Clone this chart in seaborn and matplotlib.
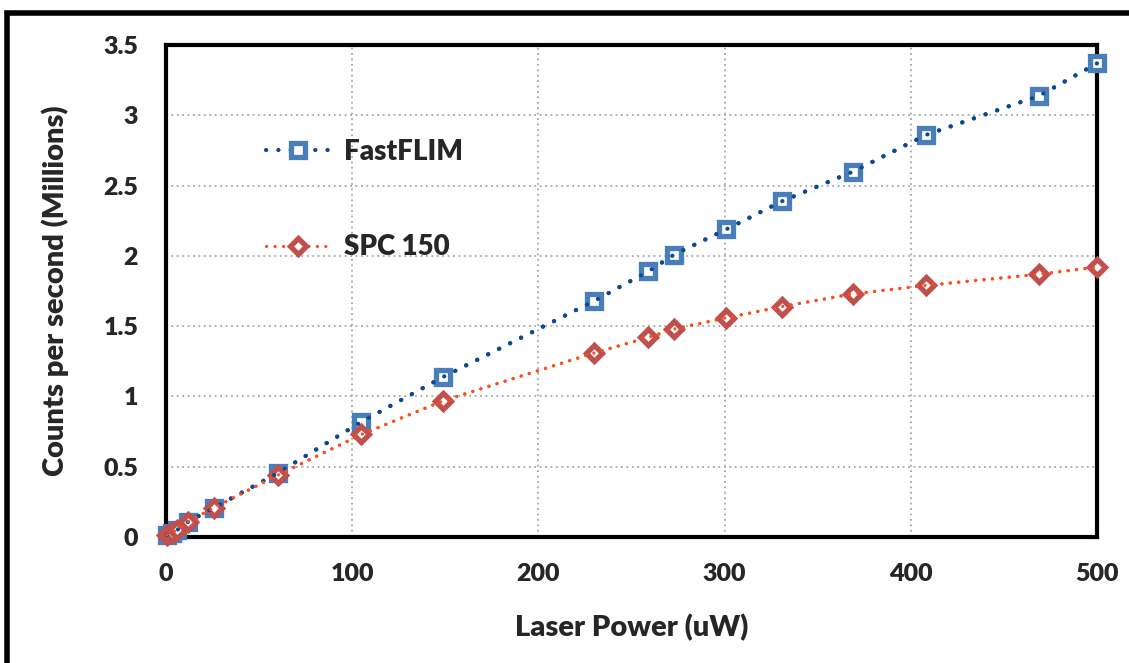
import matplotlib
matplotlib.use("Agg")
import matplotlib.pyplot as plt
from matplotlib.patches import Rectangle
import seaborn as sns

# values
power_uw = [0.5, 3, 6, 12, 26, 60, 105, 149, 230, 259, 273, 301, 331, 369, 408, 469, 500]
fastflim = [0.015, 0.03, 0.05, 0.11, 0.21, 0.455, 0.82, 1.14, 1.68, 1.89, 2.01, 2.19, 2.39, 2.60, 2.86, 3.14, 3.37]
spc150 = [0.015, 0.03, 0.05, 0.11, 0.21, 0.44, 0.73, 0.97, 1.31, 1.42, 1.48, 1.56, 1.64, 1.73, 1.79, 1.87, 1.92]
x_ticks = [0, 100, 200, 300, 400, 500]
y_ticks = [0, 0.5, 1, 1.5, 2, 2.5, 3, 3.5]
y_tick_labels = ["0", "0.5", "1", "1.5", "2", "2.5", "3", "3.5"]

sns.set_style("white")
plt.rcParams["font.family"] = ["Lato", "DejaVu Sans"]
plt.rcParams["font.weight"] = "heavy"

fig = plt.figure(figsize=(11.29, 6.63), dpi=100)
ax = fig.add_axes([0.147, 0.19, 0.8247, 0.742])

blue_line = "#0B4A8F"
blue_mark = "#4A7EBB"
red_line = "#FF4C1A"
red_mark = "#C0504D"
blue_dot = (0, (0.05, 2.9))
red_dot = (0, (0.05, 2.6))

# series with markers (these carry the legend entries)
sns.lineplot(x=power_uw, y=fastflim, ax=ax, label="FastFLIM", color=blue_line,
             linestyle=blue_dot, dash_capstyle="round", linewidth=3,
             marker="s", markersize=10.5, markerfacecolor="white",
             markeredgecolor=blue_mark, markeredgewidth=3.8, zorder=3, clip_on=False)
sns.lineplot(x=power_uw, y=spc150, ax=ax, label="SPC 150", color=red_line,
             linestyle=red_dot, dash_capstyle="round", linewidth=2.3,
             marker="D", markersize=8.3, markerfacecolor="white",
             markeredgecolor=red_mark, markeredgewidth=3.8, zorder=4, clip_on=False)
# dotted lines drawn again over the markers, as in the original
sns.lineplot(x=power_uw, y=fastflim, ax=ax, color=blue_line, linestyle=blue_dot,
             dash_capstyle="round", linewidth=3, legend=False, zorder=5, clip_on=False)
sns.lineplot(x=power_uw, y=spc150, ax=ax, color=red_line, linestyle=red_dot,
             dash_capstyle="round", linewidth=2.3, legend=False, zorder=6, clip_on=False)

ax.set_xlim(0, 500)
ax.set_ylim(0, 3.5)
ax.set_xticks(x_ticks)
ax.set_yticks(y_ticks)
ax.set_yticklabels(y_tick_labels)
ax.tick_params(axis="x", labelsize=18, length=0, pad=19)
ax.tick_params(axis="y", labelsize=18, length=0, pad=20)
for lbl in ax.get_xticklabels() + ax.get_yticklabels():
    lbl.set_fontweight("heavy")

ax.grid(True, color="#A6A6A6", linestyle=(0, (1, 2)), linewidth=1.3)
for s in ax.spines.values():
    s.set_visible(True)
    s.set_color("black")
    s.set_linewidth(3)
    s.set_zorder(2.5)

ax.set_xlabel("Laser Power (uW)", fontsize=21, fontweight="heavy")
ax.set_ylabel("Counts per second (Millions)", fontsize=21, fontweight="heavy")
ax.xaxis.set_label_coords(0.5, -0.185)
ax.yaxis.set_label_coords(-0.119, 0.5)
ax.xaxis.label.set_va("center")
ax.yaxis.label.set_va("center")

leg = ax.legend(loc="upper left", bbox_to_anchor=(0.081, 0.86), frameon=False,
                fontsize=20, handlelength=2.3, labelspacing=2.5, handletextpad=0.5)
for t in leg.get_texts():
    t.set_fontweight("heavy")

# outer frame of the chart
fig.patches.append(Rectangle((0.006, -0.2), 1.2, 1.181, transform=fig.transFigure,
                             fill=False, edgecolor="black", linewidth=4))

fig.savefig("out.png", dpi=100)
